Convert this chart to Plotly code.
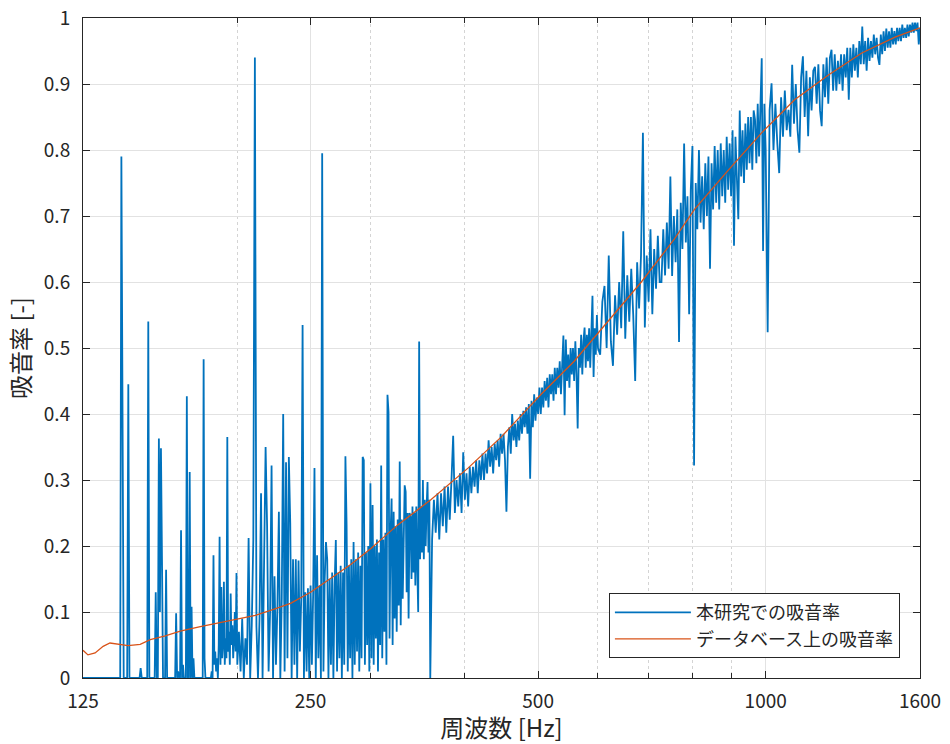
import numpy as np
import plotly.graph_objects as go

# ---------------- data ----------------
# Measured absorption (本研究での吸音率), stored on piecewise-uniform frequency bins.
# Segment A: 125.0 .. 199.5 Hz, 0.5 Hz bins
seg_a_start, seg_a_step = 125.0, 0.5
alpha_a = [
    0, 0, 0, 0, 0, 0, 0, 0, 0, 0,
    0, 0, 0, 0, 0, 0, 0, 0, 0, 0,
    0, 0, 0, 0, 0, 0, 0, 0, 0, 0,
    0, .79, .47, 0, 0, 0, 0, .445, 0, 0,
    0, 0, 0, 0, 0, 0, 0, 0, .015, 0,
    0, 0, 0, 0, 0, .54, 0, 0, 0, 0,
    0, 0, .13, 0, 0, .363, .10, .348, .18, 0,
    0, 0, .164, 0, 0, 0, 0, 0, 0, 0,
    0, 0, .098, 0, .01, 0, 0, .224, 0, .02,
    0, 0, 0, .427, 0, 0, .312, 0, .108, 0,
    .03, 0, 0, 0, 0, 0, 0, 0, 0, 0,
    0, .483, .03, 0, 0, 0, 0, 0, 0, 0,
    .01, 0, .186, .02, .04, .01, .03, 0, .05, .214,
    .02, .138, .03, .05, .146, .02, .06, .03, .365, .04,
    .07, .02, .128, .05, .08, .03, .06, .10, .04, .159,
]
# Segment B: 200 .. 360 Hz, 1 Hz bins
seg_b_start, seg_b_step = 200.0, 1.0
alpha_b = [
    .02, .07, .01, .09, 0, .06, .02, .212, 0, .08,
    .21, .94, .078, 0, .09, .28, 0, .154, .35, .23,
    .01, .10, .322, 0, .154, .02, .11, .252, 0, .12,
    .40, .01, .327, .03, .335, .234, 0, .18, .02, .18,
    0, .178, .04, .12, .535, 0, .13, .01, .136, 0,
    .14, .02, .13, .318, 0, .186, .03, .14, 0, .795,
    .01, .15, .206, .18, 0, .15, .02, .16, 0, .14,
    .209, .01, .16, .03, .17, 0, .16, .02, .336, .232,
    .01, .17, .03, .18, 0, .206, .02, .18, .04, .19,
    .01, .17, .03, .335, .33, .02, .19, .05, .20, .01,
    .295, .03, .262, .02, .20, .06, .21, .01, .19, .05,
    .322, .03, .21, .07, .22, .02, .429, .403, .06, .22,
    .272, .05, .252, .09, .23, .07, .24, .11, .328, .08,
    .24, .12, .25, .292, .282, .13, .25, .09, .25, .244,
    .15, .26, .16, .25, .14, .26, .17, .10, .51, .18,
    .26, .19, .30, .18, .27, .20, .26, .297, .19, .27,
    0,
]
# Segment C1: 362 .. 600 Hz, 2 Hz bins
seg_c1_start, seg_c1_step = 362.0, 2.0
alpha_c1 = [
    .21, .27, .22, .28, .21, .28, .23, .29, .22, .29,
    .24, .30, .367, .25, .30, .26, .31, .25, .342, .27,
    .31, .26, .32, .28, .32, .29, .33, .28, .33, .30,
    .34, .30, .34, .31, .36, .32, .35, .31, .355, .33,
    .36, .32, .37, .34, .37, .33, .252, .35, .38, .34,
    .40, .36, .385, .35, .39, .36, .40, .37, .405, .38,
    .41, .37, .415, .302, .42, .38, .43, .39, .425, .40,
    .44, .40, .44, .41, .45, .42, .455, .41, .46, .43,
    .46, .42, .47, .43, .47, .44, .48, .43, .48, .519,
    .398, .513, .45, .49, .44, .50, .46, .50, .45, .51,
    .46, .378, .50, .47, .52, .46, .51, .531, .47, .52,
    .48, .53, .47, .54, .579, .456, .53, .49, .55, .50,
]
# Segment C2: 604 .. 1000 Hz, 4 Hz bins
seg_c2_start, seg_c2_step = 604.0, 4.0
alpha_c2 = [
    .49, .57, .594, .50, .64, .51, .473, .58, .52, .60,
    .53, .677, .514, .61, .54, .62, .55, .45, .63, .56,
    .64, .826, .531, .64, .57, .68, .551, .65, .59, .67,
    .60, .60, .68, .61, .69, .62, .76, .609, .70, .63,
    .71, .509, .72, .65, .81, .66, .73, .551, .74, .806,
    .322, .75, .68, .80, .69, .76, .68, .78, .70, .79,
    .62, .78, .71, .806, .72, .80, .71, .81, .73, .80,
    .72, .82, .74, .81, .73, .83, .655, .82, .75, .695,
    .86, .76, .83, .75, .84, .77, .85, .78, .85, .77,
    .86, .846, .78, .87, .79, .86, .939, .647, .87, .80,
]
# Segment C3: 1006 .. 1600 Hz, 6 Hz bins
seg_c3_start, seg_c3_step = 1006.0, 6.0
alpha_c3 = [
    .524, .86, .901, .80, .87, .81, .765, .88, .82, .89,
    .83, .861, .82, .929, .84, .90, .83, .796, .91, .942,
    .85, .92, .821, .91, .86, .92, .926, .87, .93, .86,
    .836, .93, .88, .94, .87, .94, .952, .89, .945, .89,
    .935, .90, .945, .89, .945, .91, .955, .876, .955, .91,
    .96, .92, .955, .91, .965, .93, .987, .93, .965, .92,
    .97, .935, .965, .94, .975, .945, .97, .94, .929, .975,
    .945, .98, .95, .984, .955, .98, .955, .985, .96, .98,
    .96, .985, .965, .985, .965, .99, .97, .985, .97, .99,
    .972, .99, .978, .993, .978, .993, .98, .993, .96, .985,
]

# Database absorption (データベース上の吸音率)
db_freq = [125, 126.9, 129.7, 132.9, 135.7, 139.1, 143.4, 148.8, 153.4, 160.6,
           168.1, 178.7, 189.9, 200.6, 211.3, 223.3, 235.2, 250, 265.8, 282.5,
           300.2, 326, 360.6, 403.8, 446.6, 504.6, 558, 619, 684.7, 757,
           805, 893, 987.6, 1092, 1212, 1340, 1483, 1600]
db_alpha = [0.042, 0.035, 0.038, 0.048, 0.053, 0.051, 0.049, 0.051, 0.058, 0.064,
            0.071, 0.078, 0.084, 0.089, 0.095, 0.104, 0.113, 0.13, 0.151, 0.172,
            0.196, 0.232, 0.27, 0.318, 0.365, 0.43, 0.48, 0.54, 0.60, 0.665,
            0.71, 0.77, 0.826, 0.876, 0.914, 0.947, 0.971, 0.985]

x_tick_vals = [125, 250, 500, 1000, 1600]
x_tick_text = ["125", "250", "500", "1000", "1600"]
x_minor_vals = [200, 300, 400, 600, 700, 800, 900]
y_tick_vals = [0, 0.1, 0.2, 0.3, 0.4, 0.5, 0.6, 0.7, 0.8, 0.9, 1.0]
y_tick_text = ["0", "0.1", "0.2", "0.3", "0.4", "0.5", "0.6", "0.7", "0.8", "0.9", "1"]

legend_names = ["本研究での吸音率", "データベース上の吸音率"]
x_title = "周波数 [Hz]"
y_title = "吸音率 [-]"

# ---------------- assemble measured series ----------------
segments = [
    (seg_a_start, seg_a_step, alpha_a),
    (seg_b_start, seg_b_step, alpha_b),
    (seg_c1_start, seg_c1_step, alpha_c1),
    (seg_c2_start, seg_c2_step, alpha_c2),
    (seg_c3_start, seg_c3_step, alpha_c3),
]
meas_freq, meas_alpha = [], []
for start, step, vals in segments:
    meas_freq.extend(start + step * np.arange(len(vals)))
    meas_alpha.extend(vals)

FONT = "Noto Sans CJK JP"
AX = "#262626"

fig = go.Figure()
fig.add_trace(go.Scatter(
    x=meas_freq, y=meas_alpha, mode="lines", name=legend_names[0],
    line=dict(color="#0072BD", width=1.8)))
fig.add_trace(go.Scatter(
    x=db_freq, y=db_alpha, mode="lines", name=legend_names[1],
    line=dict(color="#D95319", width=1.3)))

fig.update_layout(
    width=950, height=744,
    margin=dict(l=83, r=30, t=18, b=66),
    paper_bgcolor="white", plot_bgcolor="white",
    font=dict(family=FONT, size=19, color=AX),
    showlegend=True,
    legend=dict(
        x=0.976, y=0.030, xanchor="right", yanchor="bottom",
        bgcolor="white", bordercolor=AX, borderwidth=1,
        font=dict(family=FONT, size=18, color=AX),
        itemwidth=76, tracegroupgap=0,
    ),
    xaxis=dict(
        type="log", range=[np.log10(125), np.log10(1600)],
        tickmode="array", tickvals=x_tick_vals, ticktext=x_tick_text,
        ticks="inside", ticklen=7, tickcolor=AX, tickwidth=1,
        showline=True, linecolor=AX, linewidth=1, mirror="ticks",
        showgrid=True, gridcolor="#e2e2e2", gridwidth=1, zeroline=False,
        minor=dict(tickvals=x_minor_vals, ticks="inside", ticklen=5,
                   tickcolor=AX, showgrid=True, gridcolor="#d4d4d4",
                   griddash="dot", gridwidth=1),
        tickfont=dict(family=FONT, size=19, color=AX),
        ticklabelstandoff=6, ticklabeloverflow="allow",
        title=dict(text=x_title, font=dict(family=FONT, size=24, color=AX), standoff=4),
        automargin=False,
    ),
    yaxis=dict(
        range=[0, 1], tickmode="array", tickvals=y_tick_vals, ticktext=y_tick_text,
        ticks="inside", ticklen=7, tickcolor=AX, tickwidth=1,
        showline=True, linecolor=AX, linewidth=1, mirror="ticks",
        showgrid=True, gridcolor="#e2e2e2", gridwidth=1, zeroline=False,
        tickfont=dict(family=FONT, size=19, color=AX),
        ticklabelstandoff=8, ticklabeloverflow="allow",
        title=dict(text=y_title, font=dict(family=FONT, size=24, color=AX), standoff=6),
        automargin=False,
    ),
)

# remove the default 8 px page margin so the 950x744 figure fills the window exactly
fig.write_html("out.html", config={"displayModeBar": False},
               post_script="document.body.style.margin='0';")
